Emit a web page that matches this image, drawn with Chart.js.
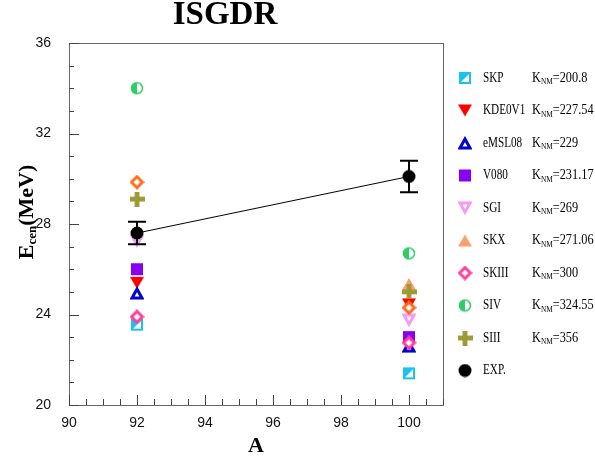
<!DOCTYPE html>
<html>
<head>
<meta charset="utf-8">
<script src="https://cdn.jsdelivr.net/npm/chart.js@4/dist/chart.umd.min.js"></script>
<style>
  body { margin: 0; background: #fff; }
  canvas { display: block; }
</style>
</head>
<body>
<canvas id="isgdrChart" width="595" height="460"></canvas>
<script>
// --- Data ---
const massNumbers = [92, 100];
const skp      = [23.55, 21.4];
const kde0v1   = [25.4, 24.45];
const emsl08   = [24.95, 22.6];
const v080     = [26.0, 23.0];
const sgi      = [27.25, 23.75];
const skx      = [null, 25.35];
const skiii    = [23.9, 22.75];
const siv      = [34.0, 26.7];
const siii     = [29.1, 25.0];
const unlisted = [29.85, 24.3];   // orange diamond, not in the legend
const expValues = [27.6, 30.1];
const expErrors = [0.5, 0.7];

const xTickValues = [90, 92, 94, 96, 98, 100];
const yTickValues = [20, 24, 28, 32, 36];

const legendNames = ['SKP', 'KDE0V1', 'eMSL08', 'V080', 'SGI', 'SKX', 'SKIII', 'SIV', 'SIII', 'EXP.'];
const knmValues = ['200.8', '227.54', '229', '231.17', '269', '271.06', '300', '324.55', '356', null];

// --- Marker images ---
function makeMarker(type, color, size) {
    const c = document.createElement('canvas');
    c.width = size; c.height = size;
    const ctx = c.getContext('2d');
    const s = size, h = size / 2;
    ctx.fillStyle = color;
    ctx.strokeStyle = color;
    ctx.lineJoin = 'miter';
    switch (type) {
        case 'halfSquare':
            ctx.fillStyle = '#fff';
            ctx.fillRect(1, 1, s - 2, s - 2);
            ctx.fillStyle = color;
            ctx.beginPath();
            ctx.moveTo(1, 1); ctx.lineTo(s - 1, 1); ctx.lineTo(1, s - 1);
            ctx.closePath(); ctx.fill();
            ctx.lineWidth = 2;
            ctx.strokeRect(2, 2, s - 4, s - 4);
            break;
        case 'triDown':
            ctx.beginPath();
            ctx.moveTo(0, 1); ctx.lineTo(s, 1); ctx.lineTo(h, s - 1);
            ctx.closePath(); ctx.fill();
            break;
        case 'triUp':
            ctx.beginPath();
            ctx.moveTo(0, s - 1); ctx.lineTo(s, s - 1); ctx.lineTo(h, 1);
            ctx.closePath(); ctx.fill();
            break;
        case 'triUpHollow':
            ctx.lineWidth = 3;
            ctx.fillStyle = '#fff';
            ctx.beginPath();
            ctx.moveTo(2, s - 2); ctx.lineTo(s - 2, s - 2); ctx.lineTo(h, 3);
            ctx.closePath(); ctx.fill(); ctx.stroke();
            break;
        case 'triDownHollow':
            ctx.lineWidth = 3;
            ctx.fillStyle = '#fff';
            ctx.beginPath();
            ctx.moveTo(2, 2); ctx.lineTo(s - 2, 2); ctx.lineTo(h, s - 3);
            ctx.closePath(); ctx.fill(); ctx.stroke();
            break;
        case 'square':
            ctx.fillRect(1, 1, s - 2, s - 2);
            break;
        case 'diamondHollow':
            ctx.lineWidth = 3;
            ctx.fillStyle = '#fff';
            ctx.beginPath();
            ctx.moveTo(h, 2); ctx.lineTo(s - 2, h); ctx.lineTo(h, s - 2); ctx.lineTo(2, h);
            ctx.closePath(); ctx.fill(); ctx.stroke();
            break;
        case 'halfCircle':
            ctx.fillStyle = '#fff';
            ctx.beginPath(); ctx.arc(h, h, h - 1, 0, Math.PI * 2); ctx.fill();
            ctx.fillStyle = color;
            ctx.beginPath(); ctx.arc(h, h, h - 1, Math.PI / 2, Math.PI * 1.5); ctx.closePath(); ctx.fill();
            ctx.lineWidth = 1.5;
            ctx.beginPath(); ctx.arc(h, h, h - 1.5, 0, Math.PI * 2); ctx.stroke();
            break;
        case 'plus': {
            const t = s * 0.32;
            ctx.fillRect(h - t / 2, 0, t, s);
            ctx.fillRect(0, h - t / 2, s, t);
            break;
        }
        case 'circle':
            ctx.beginPath(); ctx.arc(h, h, h - 0.5, 0, Math.PI * 2); ctx.fill();
            break;
    }
    return c;
}

function toPoints(values) {
    return massNumbers.map((x, i) => ({ x: x, y: values[i] })).filter(p => p.y !== null);
}

function markerSet(label, values, marker, legendIndex, order) {
    return {
        label: label,
        data: toPoints(values),
        pointStyle: marker,
        pointRadius: 7,
        showLine: false,
        legendIndex: legendIndex,
        order: order
    };
}

const markers = [
    makeMarker('halfSquare', '#19c3f0', 14),
    makeMarker('triDown', '#ff0000', 14),
    makeMarker('triUpHollow', '#0000d0', 14),
    makeMarker('square', '#8a00f0', 14),
    makeMarker('triDownHollow', '#f59cf2', 14),
    makeMarker('triUp', '#f9a070', 14),
    makeMarker('diamondHollow', '#ff3c9c', 15),
    makeMarker('halfCircle', '#2fcc68', 14),
    makeMarker('plus', '#9c9a32', 15),
    makeMarker('circle', '#000000', 14)
];
const orangeDiamond = makeMarker('diamondHollow', '#ff6a1a', 15);

const seriesValues = [skp, kde0v1, emsl08, v080, sgi, skx, skiii, siv, siii];
const datasets = seriesValues.map((vals, i) => markerSet(legendNames[i], vals, markers[i], i, 20 - i));
datasets.push(markerSet('unlisted', unlisted, orangeDiamond, null, 12.5));
datasets.push({
    label: 'EXP.',
    data: toPoints(expValues),
    pointStyle: markers[9],
    pointRadius: 7,
    showLine: true,
    borderColor: '#000',
    borderWidth: 1,
    legendIndex: 9,
    order: 0
});

// --- Plugins: frame, minor ticks, error bars, titles, legend ---
const framePlugin = {
    id: 'frame',
    afterDraw(chart) {
        const { ctx, chartArea: a, scales: { x, y } } = chart;
        ctx.save();
        ctx.strokeStyle = '#666';
        ctx.lineWidth = 1;
        ctx.strokeRect(a.left + 0.5, a.top + 0.5, a.right - a.left, a.bottom - a.top);
        ctx.strokeStyle = '#444';
        ctx.beginPath();
        for (let v = 90; v <= 101; v += 0.5) {
            const px = Math.round(x.getPixelForValue(v)) + 0.5;
            const len = (v % 2 === 0) ? 10 : 6;
            ctx.moveTo(px, a.bottom); ctx.lineTo(px, a.bottom - len);
        }
        for (let v = 20; v <= 36; v += 1) {
            const py = Math.round(y.getPixelForValue(v)) + 0.5;
            const len = (v % 4 === 0) ? 10 : 5;
            ctx.moveTo(a.left, py); ctx.lineTo(a.left + len, py);
        }
        ctx.stroke();
        ctx.restore();
    }
};

const errorBarPlugin = {
    id: 'errorBars',
    afterDatasetsDraw(chart) {
        const { ctx, scales: { x, y } } = chart;
        ctx.save();
        ctx.strokeStyle = '#000';
        ctx.lineWidth = 2;
        massNumbers.forEach((a, i) => {
            const px = x.getPixelForValue(a);
            const top = y.getPixelForValue(expValues[i] + expErrors[i]);
            const bot = y.getPixelForValue(expValues[i] - expErrors[i]);
            ctx.beginPath();
            ctx.moveTo(px, top); ctx.lineTo(px, bot);
            ctx.moveTo(px - 9, top); ctx.lineTo(px + 9, top);
            ctx.moveTo(px - 9, bot); ctx.lineTo(px + 9, bot);
            ctx.stroke();
        });
        ctx.restore();
    }
};

const textPlugin = {
    id: 'texts',
    afterDraw(chart) {
        const ctx = chart.ctx;
        ctx.save();
        ctx.fillStyle = '#000';
        // title
        ctx.font = 'bold 33px "Liberation Serif"';
        ctx.textAlign = 'center';
        ctx.textBaseline = 'middle';
        ctx.fillText('ISGDR', 225, 15);
        // x title
        ctx.font = 'bold 22px "Liberation Serif"';
        ctx.fillText('A', 256, 446);
        // y title with subscript
        ctx.translate(27, 212);
        ctx.rotate(-Math.PI / 2);
        ctx.textAlign = 'left';
        ctx.textBaseline = 'middle';
        const big = 'bold 22px "Liberation Serif"', small = 'bold 13px "Liberation Serif"';
        ctx.font = big; const wE = ctx.measureText('E').width; const wP = ctx.measureText('(MeV)').width;
        ctx.font = small; const wS = ctx.measureText('cen').width;
        let cx = -(wE + wS + wP) / 2;
        ctx.font = big; ctx.fillText('E', cx, 0); cx += wE;
        ctx.font = small; ctx.fillText('cen', cx, 6); cx += wS;
        ctx.font = big; ctx.fillText('(MeV)', cx, 0);
        ctx.restore();
    }
};

const legendPlugin = {
    id: 'sideLegend',
    afterDraw(chart) {
        const ctx = chart.ctx;
        ctx.save();
        ctx.fillStyle = '#000';
        ctx.textBaseline = 'middle';
        chart.data.datasets.forEach(ds => {
            if (ds.legendIndex === null) return;
            const i = ds.legendIndex;
            const yy = 78 + i * 32.5;
            const img = ds.pointStyle;
            ctx.drawImage(img, 465 - img.width / 2, yy - img.height / 2);
            ctx.save();
            ctx.translate(483, yy);
            ctx.scale(0.8, 1);
            ctx.font = '14px "Liberation Serif"';
            ctx.fillText(legendNames[i], 0, 0);
            ctx.restore();
            if (knmValues[i] !== null) {
                ctx.save();
                ctx.translate(532, yy);
                ctx.scale(0.82, 1);
                ctx.font = '15px "Liberation Serif"';
                let cx = 0;
                ctx.fillText('K', cx, 0); cx += ctx.measureText('K').width;
                ctx.font = '9px "Liberation Serif"';
                ctx.fillText('NM', cx, 4); cx += ctx.measureText('NM').width;
                ctx.font = '15px "Liberation Serif"';
                ctx.fillText('=' + knmValues[i], cx, 0);
                ctx.restore();
            }
        });
        ctx.restore();
    }
};

new Chart(document.getElementById('isgdrChart').getContext('2d'), {
    type: 'scatter',
    data: { datasets: datasets },
    options: {
        responsive: false,
        animation: false,
        layout: { padding: { top: 43, right: 152, left: 0, bottom: 0 } },
        plugins: {
            legend: { display: false },
            tooltip: { enabled: false }
        },
        scales: {
            x: {
                type: 'linear',
                min: 90,
                max: 101,
                grid: { display: false },
                border: { display: false },
                afterFit: (scale) => { scale.height = 55; },
                afterBuildTicks: (scale) => { scale.ticks = xTickValues.map(v => ({ value: v })); },
                ticks: {
                    padding: 2,
                    color: '#111',
                    font: { family: '"Liberation Sans"', size: 14 },
                    maxRotation: 0
                }
            },
            y: {
                type: 'linear',
                min: 20,
                max: 36,
                grid: { display: false },
                border: { display: false },
                afterFit: (scale) => { scale.width = 69; },
                afterBuildTicks: (scale) => { scale.ticks = yTickValues.map(v => ({ value: v })); },
                ticks: {
                    padding: 10,
                    color: '#111',
                    font: { family: '"Liberation Sans"', size: 14 }
                }
            }
        }
    },
    plugins: [framePlugin, errorBarPlugin, textPlugin, legendPlugin]
});
</script>
</body>
</html>
